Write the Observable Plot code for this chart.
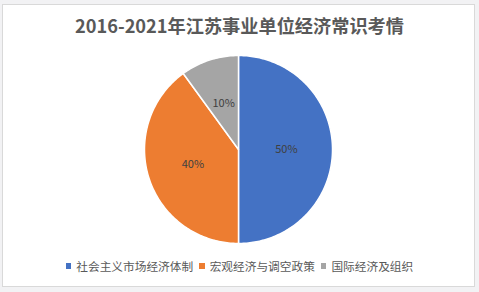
<!DOCTYPE html>
<html><head><meta charset="utf-8">
<script src="https://cdn.jsdelivr.net/npm/d3@7"></script>
<script src="https://cdn.jsdelivr.net/npm/@observablehq/plot@0.6"></script>
<style>
html,body{margin:0;padding:0;background:#f2f2f4;width:479px;height:292px;overflow:hidden;font-family:"Noto Sans CJK SC","Noto Sans",sans-serif;}
#panel{position:absolute;left:2px;top:4px;width:471px;height:281px;background:#fff;border:1.5px solid #d9d9d9;}
#title{position:absolute;left:0;top:12px;width:479px;text-align:center;font-size:18.2px;font-weight:bold;color:#595959;line-height:26px;}
#chart{position:absolute;left:0;top:0;}
#legend{position:absolute;left:0;top:258px;width:479px;display:flex;justify-content:center;align-items:center;font-size:11.7px;color:#595959;line-height:16px;}
#legend .item{display:flex;align-items:center;margin:0 3px;}
#legend .sw{width:5.5px;height:5.5px;margin-right:5px;display:inline-block;}
</style></head>
<body>
<div id="panel"></div>
<div id="chart"></div>
<div id="title"></div>
<div id="legend"></div>
<script>
const titleText = "2016-2021年江苏事业单位经济常识考情";
const categories = ["社会主义市场经济体制", "宏观经济与调空政策", "国际经济及组织"];
const values = [50, 40, 10];
const labels = ["50%", "40%", "10%"];
const colors = ["#4472C4", "#ED7D31", "#A5A5A5"];

document.getElementById("title").textContent = titleText;

const pie = d3.pie().sort(null).value(d => d.value)(categories.map((c, i) => ({cat: c, value: values[i], label: labels[i]})));

// build slice outlines from the pie angles
const slicePts = [];
pie.forEach(p => {
  const cat = p.data.cat;
  slicePts.push({cat, x: 0, y: 0});
  const n = Math.max(2, Math.ceil((p.endAngle - p.startAngle) / (Math.PI / 180)));
  for (let k = 0; k <= n; k++) {
    const a = p.startAngle + (p.endAngle - p.startAngle) * k / n;
    slicePts.push({cat, x: Math.sin(a), y: Math.cos(a)});
  }
  slicePts.push({cat, x: 0, y: 0});
});
const labelPts = pie.map(p => {
  const a = (p.startAngle + p.endAngle) / 2;
  return {label: p.data.label, x: 0.51 * Math.sin(a), y: 0.51 * Math.cos(a)};
});

const cx = 238, cy = 149, r = 94;
const plot = Plot.plot({
  width: 479,
  height: 292,
  style: {background: "transparent", overflow: "visible"},
  x: {domain: [-1, 1], range: [cx - r, cx + r], axis: null},
  y: {domain: [-1, 1], range: [cy + r, cy - r], axis: null},
  color: {domain: categories, range: colors},
  marks: [
    Plot.line(slicePts, {x: "x", y: "y", z: "cat", fill: "cat", stroke: "#fff", strokeWidth: 1.5, strokeLinejoin: "round", curve: "linear"}),
    Plot.text(labelPts, {x: "x", y: "y", text: "label", fill: "#404040", fontSize: 11, fontFamily: "Noto Sans CJK SC, sans-serif"})
  ]
});
document.getElementById("chart").appendChild(plot);

const lg = document.getElementById("legend");
categories.forEach((c, i) => {
  const it = document.createElement("span");
  it.className = "item";
  const sw = document.createElement("span");
  sw.className = "sw";
  sw.style.background = colors[i];
  const t = document.createElement("span");
  t.textContent = c;
  it.appendChild(sw); it.appendChild(t);
  lg.appendChild(it);
});
</script>
</body></html>
